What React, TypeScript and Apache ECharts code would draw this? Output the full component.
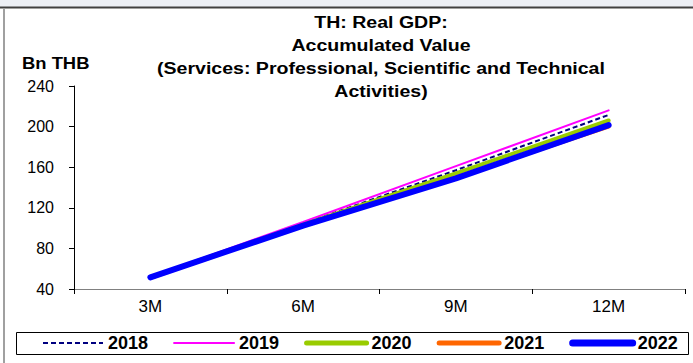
import React, { useEffect, useRef } from "react";
import * as echarts from "echarts";

const categories = ["3M", "6M", "9M", "12M"];
const years = ["2018", "2019", "2020", "2021", "2022"];
const s2018 = [51.5, 104.5, 157, 211.5];
const s2019 = [52, 106, 161, 216];
const s2020 = [51.5, 103.5, 154, 206];
const s2021 = [51, 102.5, 150, 200];
const s2022 = [51.5, 102.5, 149, 201.5];
const yTicks = { min: 40, max: 240, interval: 40 };
const titleText = "TH: Real GDP:\nAccumulated Value\n(Services: Professional, Scientific and Technical\nActivities)";
const unitText = "Bn THB";

const FONT = "'Liberation Sans', Arial, sans-serif";

export default function App() {
  const ref = useRef<HTMLDivElement>(null);
  useEffect(() => {
    if (!ref.current) return;
    const chart = echarts.init(ref.current, null, { renderer: "svg" });
    const data = [s2018, s2019, s2020, s2021, s2022];
    const styles: any[] = [
      { color: "#000080", width: 2, legendWidth: 2, type: [5, 3] },
      { color: "#ff00ff", width: 2, legendWidth: 2, type: "solid" },
      { color: "#99cc00", width: 4, legendWidth: 5, type: "solid" },
      { color: "#ff6600", width: 4, legendWidth: 5, type: "solid" },
      { color: "#0000ff", width: 6, legendWidth: 7, type: "solid" },
    ];
    chart.setOption({
      animation: false,
      backgroundColor: "#ffffff",
      textStyle: { fontFamily: FONT },
      graphic: [
        { type: "rect", shape: { x: 0, y: 0, width: 693, height: 7 }, style: { fill: "#eceff5" }, silent: true },
        { type: "line", shape: { x1: 0, y1: 7.5, x2: 693, y2: 7.5 }, style: { stroke: "#404040", lineWidth: 2 }, silent: true },
        { type: "line", shape: { x1: 4, y1: 8, x2: 4, y2: 363 }, style: { stroke: "#a0a0a0", lineWidth: 2 }, silent: true },
        {
          type: "text",
          x: 381,
          y: 10,
          scaleX: 1.15,
          style: { text: titleText, textAlign: "center", font: `bold 17px ${FONT}`, lineHeight: 23, fill: "#000" },
          silent: true,
        },
        {
          type: "text",
          x: 22,
          y: 55,
          scaleX: 1.15,
          style: { text: unitText, font: `bold 16px ${FONT}`, fill: "#000" },
          silent: true,
        },
        {
          type: "rect",
          shape: { x: 16.5, y: 332.5, width: 672, height: 22 },
          style: { fill: "none", stroke: "#000", lineWidth: 1 },
          silent: true,
        },
      ],
      legend: {
        data: years.map((y, i) => ({
          name: y,
          lineStyle: { color: styles[i].color, width: styles[i].legendWidth, type: styles[i].type, cap: i === 0 ? "butt" : "round" },
        })),
        left: 42,
        top: 334,
        width: 648,
        padding: 0,
        itemWidth: 60,
        itemHeight: 18,
        itemGap: 25,
        itemStyle: { opacity: 0 },
        textStyle: { fontSize: 18, fontWeight: "bold", color: "#000", fontFamily: FONT },
      },
      grid: { left: 74, right: 8, top: 86, bottom: 74, containLabel: false },
      xAxis: {
        type: "category",
        data: categories,
        boundaryGap: true,
        axisLine: { lineStyle: { color: "#808080", width: 1 } },
        axisTick: { show: true, length: 5, lineStyle: { color: "#000" } },
        axisLabel: { fontSize: 17, color: "#000", margin: 9, fontFamily: FONT },
      },
      yAxis: {
        type: "value",
        min: yTicks.min,
        max: yTicks.max,
        interval: yTicks.interval,
        axisLine: { show: true, lineStyle: { color: "#000", width: 1 } },
        axisTick: { show: true, length: 5, lineStyle: { color: "#000" } },
        axisLabel: { fontSize: 16, color: "#000", margin: 20, fontFamily: FONT },
        splitLine: { show: false },
      },
      series: years.map((y, i) => ({
        name: y,
        type: "line",
        data: data[i],
        symbol: "none",
        showSymbol: false,
        color: styles[i].color,
        lineStyle: { color: styles[i].color, width: styles[i].width, type: styles[i].type, cap: i === 0 ? "butt" : "round" },
        z: 2 + i,
      })),
    });
    return () => chart.dispose();
  }, []);
  return <div ref={ref} style={{ width: 693, height: 363, position: "absolute", left: 0, top: 0 }} />;
}
